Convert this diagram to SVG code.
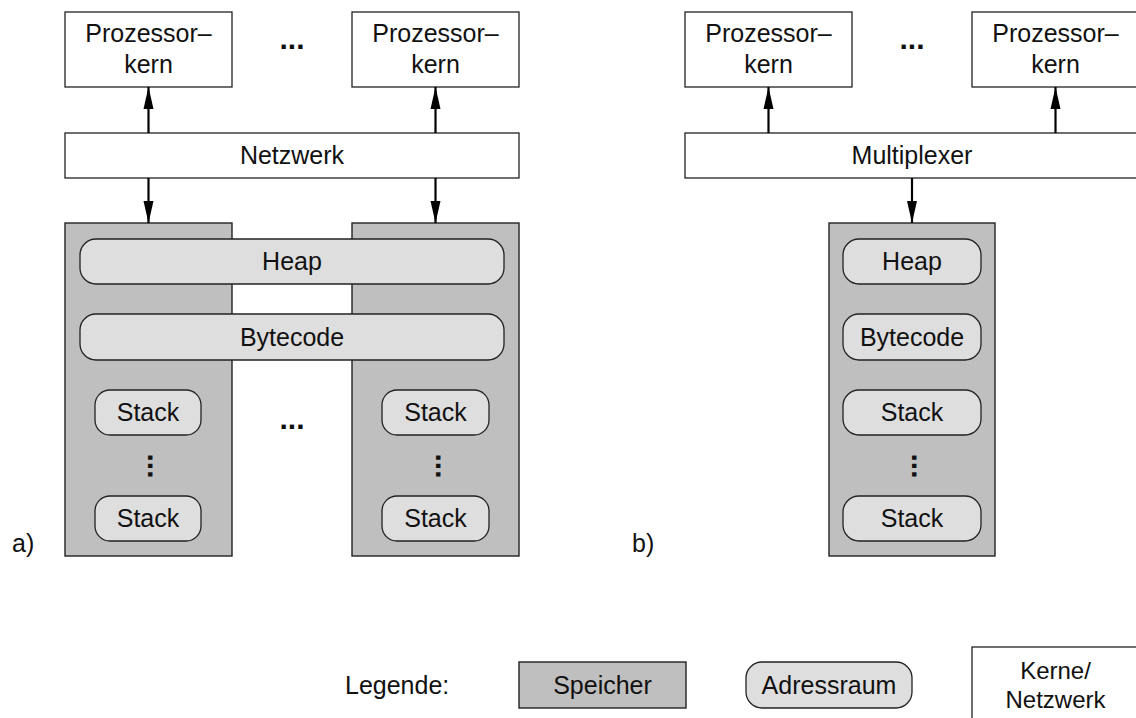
<svg xmlns="http://www.w3.org/2000/svg" width="1136" height="718" viewBox="0 0 1136 718">
<defs>
<style>
text{font-family:"Liberation Sans",Arial,Helvetica,sans-serif;font-size:25px;fill:#111;text-anchor:middle}
.box{fill:#fff;stroke:#222;stroke-width:1.3}
.mem{fill:#bfbfbf;stroke:#222;stroke-width:1.4}
.as{fill:#dedede;stroke:#222;stroke-width:1.3}
.conn{stroke:#000;stroke-width:2.2;fill:none}
.dots{font-weight:bold;font-size:30px}
.lab{text-anchor:start}
.sm{font-size:24px}
</style>
<marker id="ah" markerUnits="userSpaceOnUse" markerWidth="22" markerHeight="11" refX="22" refY="5.5" orient="auto" viewBox="0 0 22 11">
<path d="M0,0.5 L22,5.5 L0,10.5 Z" fill="#000"/>
</marker>
</defs>
<rect width="1136" height="718" fill="#fff"/>

<!-- a) -->
<g id="a-cpu1"><rect class="box" x="65" y="12" width="167" height="75"/><text x="148.5" y="42">Prozessor–</text><text x="148.5" y="73">kern</text></g>
<g id="a-cpu2"><rect class="box" x="352" y="12" width="167" height="75"/><text x="435.5" y="42">Prozessor–</text><text x="435.5" y="73">kern</text></g>
<g id="a-dots-top"><text class="dots" x="292" y="49">...</text></g>
<g id="a-net"><rect class="box" x="65" y="133" width="454" height="45"/><text x="292" y="164">Netzwerk</text></g>
<g id="a-mem1"><rect class="mem" x="65" y="223" width="167" height="333"/></g>
<g id="a-mem2"><rect class="mem" x="352" y="223" width="167" height="333"/></g>
<g id="a-heap"><rect class="as" x="80" y="239" width="424" height="45" rx="16"/><text x="292" y="270">Heap</text></g>
<g id="a-bytecode"><rect class="as" x="80" y="314" width="424" height="46" rx="16"/><text x="292" y="346">Bytecode</text></g>
<g id="a-stack1"><rect class="as" x="95" y="390" width="106" height="45" rx="15"/><text x="148" y="421">Stack</text></g>
<g id="a-stack2"><rect class="as" x="95" y="496" width="106" height="45" rx="15"/><text x="148" y="527">Stack</text></g>
<g id="a-stack3"><rect class="as" x="382" y="390" width="107" height="45" rx="15"/><text x="435.5" y="421">Stack</text></g>
<g id="a-stack4"><rect class="as" x="382" y="496" width="107" height="45" rx="15"/><text x="435.5" y="527">Stack</text></g>
<g id="a-vdots1"><text class="dots" transform="translate(148,466) rotate(90)" y="0">...</text></g>
<g id="a-vdots2"><text class="dots" transform="translate(436,466) rotate(90)" y="0">...</text></g>
<g id="a-dots-mid"><text class="dots" x="292" y="429">...</text></g>
<g id="label-a"><text class="lab" x="12" y="552">a)</text></g>

<!-- b) -->
<g id="b-cpu1"><rect class="box" x="685" y="12" width="167" height="75"/><text x="768.5" y="42">Prozessor–</text><text x="768.5" y="73">kern</text></g>
<g id="b-cpu2"><rect class="box" x="972" y="12" width="167" height="75"/><text x="1055.5" y="42">Prozessor–</text><text x="1055.5" y="73">kern</text></g>
<g id="b-dots-top"><text class="dots" x="912" y="49">...</text></g>
<g id="b-mux"><rect class="box" x="685" y="133" width="454" height="45"/><text x="912" y="164">Multiplexer</text></g>
<g id="b-mem"><rect class="mem" x="829" y="223" width="166" height="333"/></g>
<g id="b-heap"><rect class="as" x="843" y="239" width="138" height="45" rx="16"/><text x="912" y="270">Heap</text></g>
<g id="b-bytecode"><rect class="as" x="843" y="314" width="138" height="46" rx="16"/><text x="912" y="346">Bytecode</text></g>
<g id="b-stack1"><rect class="as" x="843" y="390" width="138" height="45" rx="16"/><text x="912" y="421">Stack</text></g>
<g id="b-stack2"><rect class="as" x="843" y="496" width="138" height="45" rx="16"/><text x="912" y="527">Stack</text></g>
<g id="b-vdots"><text class="dots" transform="translate(912,466) rotate(90)" y="0">...</text></g>
<g id="label-b"><text class="lab" x="632" y="552">b)</text></g>

<!-- connectors -->
<g id="connectors">
<line class="conn" x1="148.5" y1="133" x2="148.5" y2="87" marker-end="url(#ah)"/>
<line class="conn" x1="435.5" y1="133" x2="435.5" y2="87" marker-end="url(#ah)"/>
<line class="conn" x1="148.5" y1="178" x2="148.5" y2="223" marker-end="url(#ah)"/>
<line class="conn" x1="435.5" y1="178" x2="435.5" y2="223" marker-end="url(#ah)"/>
<line class="conn" x1="768.5" y1="133" x2="768.5" y2="87" marker-end="url(#ah)"/>
<line class="conn" x1="1055.5" y1="133" x2="1055.5" y2="87" marker-end="url(#ah)"/>
<line class="conn" x1="912" y1="178" x2="912" y2="223" marker-end="url(#ah)"/>
</g>

<!-- legend -->
<g id="legend">
<text class="lab" x="345" y="694">Legende:</text>
<g id="legend-speicher"><rect class="mem" x="519" y="662" width="167" height="46"/><text x="602.5" y="694">Speicher</text></g>
<g id="legend-adressraum"><rect class="as" x="746" y="662" width="166" height="46" rx="16"/><text x="829" y="694">Adressraum</text></g>
<g id="legend-kerne"><rect class="box" x="972" y="647" width="167" height="80"/><text class="sm" x="1055.5" y="679">Kerne/</text><text class="sm" x="1055.5" y="708">Netzwerk</text></g>
</g>
</svg>
